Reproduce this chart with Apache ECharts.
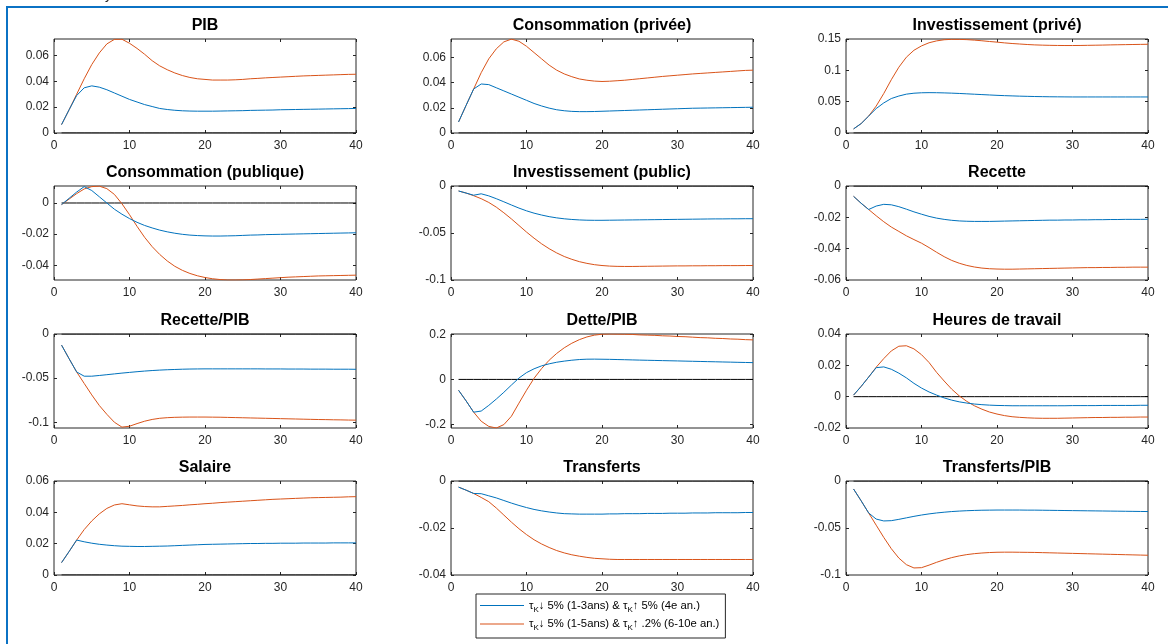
<!DOCTYPE html>
<html><head><meta charset="utf-8">
<script src="https://cdn.jsdelivr.net/npm/echarts@6/dist/echarts.min.js"></script>
<style>html,body{margin:0;padding:0;background:#fff}#c{width:1168px;height:644px}</style>
</head><body><div id="c"></div>
<script>
// ---------- DATA ----------
const periods = Array.from({length:40},(_,i)=>i+1);
const xTicks = [0,10,20,30,40];
const titles = ['PIB','Consommation (privée)','Investissement (privé)','Consommation (publique)','Investissement (public)','Recette','Recette/PIB','Dette/PIB','Heures de travail','Salaire','Transferts','Transferts/PIB'];
const seriesNames = ['τK↓ 5% (1-3ans) & τK↑ 5% (4e an.)','τK↓ 5% (1-5ans) & τK↑ .2% (6-10e an.)'];

const pibBlue = [0.0065,0.018,0.029,0.035,0.0365,0.0355,0.0335,0.031,0.0285,0.026,
0.024,0.022,0.0205,0.019,0.0182,0.0176,0.0172,0.017,0.0169,0.0169,
0.0169,0.017,0.0171,0.0172,0.0173,0.0175,0.0176,0.0177,0.0178,0.018,
0.0181,0.0182,0.0183,0.0184,0.0185,0.0186,0.0187,0.0188,0.0189,0.019];
const pibOrange = [0.0065,0.018,0.030,0.042,0.053,0.062,0.069,0.0725,0.0726,0.0695,
0.0655,0.061,0.056,0.052,0.049,0.0465,0.0445,0.043,0.042,0.0415,
0.041,0.041,0.041,0.0412,0.0415,0.042,0.0423,0.0427,0.043,0.0433,
0.0436,0.0439,0.0442,0.0444,0.0446,0.0448,0.045,0.0452,0.0454,0.0455];

const consBlue = [0.0088,0.022,0.035,0.039,0.0385,0.036,0.0335,0.031,0.0285,0.026,
0.0235,0.0215,0.0198,0.0185,0.0177,0.0172,0.017,0.017,0.0171,0.0173,
0.0175,0.0177,0.0179,0.0181,0.0183,0.0185,0.0187,0.0189,0.0191,0.0193,
0.0195,0.0197,0.0198,0.0199,0.0200,0.0201,0.0202,0.0203,0.0204,0.0205];
const consOrange = [0.0088,0.022,0.035,0.048,0.059,0.067,0.0725,0.0747,0.073,0.069,
0.064,0.059,0.054,0.050,0.047,0.0448,0.043,0.042,0.0413,0.041,
0.0412,0.0416,0.042,0.0426,0.0432,0.0438,0.0444,0.045,0.0455,0.046,
0.0465,0.047,0.0474,0.0478,0.0482,0.0486,0.049,0.0494,0.0498,0.050];

const invPrivBlue = [0.0065,0.015,0.027,0.039,0.048,0.055,0.059,0.062,0.0635,0.0642,
0.0644,0.0643,0.064,0.0636,0.0631,0.0625,0.0619,0.0613,0.0607,0.0601,
0.0596,0.0592,0.0588,0.0585,0.0582,0.058,0.0578,0.0577,0.0576,0.0575,
0.0575,0.0575,0.0575,0.0575,0.0575,0.0575,0.0575,0.0575,0.0575,0.0575];
const invPrivOrange = [0.0065,0.015,0.027,0.043,0.063,0.085,0.105,0.121,0.132,0.139,
0.144,0.147,0.1488,0.1495,0.1494,0.149,0.1482,0.1472,0.146,0.145,
0.1438,0.1428,0.142,0.1412,0.1406,0.1402,0.1399,0.1397,0.1396,0.1396,
0.1397,0.1399,0.1401,0.1403,0.1406,0.1408,0.141,0.1412,0.1414,0.1416];

const consPubBlue = [-0.001,0.003,0.007,0.0105,0.008,0.004,0.0,-0.004,-0.0072,-0.0100,
-0.0124,-0.0144,-0.016,-0.0174,-0.0185,-0.0194,-0.0201,-0.0206,-0.0209,-0.0211,
-0.0212,-0.0212,-0.0211,-0.021,-0.0208,-0.0206,-0.0205,-0.0203,-0.0202,-0.0201,
-0.02,-0.0199,-0.0198,-0.0197,-0.0196,-0.0195,-0.0194,-0.0193,-0.0192,-0.0191];
const consPubOrange = [-0.001,0.0025,0.006,0.009,0.0105,0.0108,0.0092,0.0055,-0.0005,-0.0075,
-0.015,-0.022,-0.028,-0.033,-0.0372,-0.0406,-0.0432,-0.0452,-0.0467,-0.0478,
-0.0486,-0.0491,-0.0494,-0.0494,-0.0493,-0.0491,-0.0488,-0.0485,-0.0482,-0.0479,
-0.0476,-0.0474,-0.0472,-0.047,-0.0468,-0.0467,-0.0466,-0.0465,-0.0464,-0.0463];

const invPubBlue = [-0.0053,-0.0075,-0.0098,-0.0083,-0.0105,-0.0135,-0.0168,-0.0202,-0.0235,-0.0264,
-0.0289,-0.0309,-0.0326,-0.0339,-0.0349,-0.0356,-0.0361,-0.0364,-0.0365,-0.0365,
-0.0364,-0.0363,-0.0362,-0.0361,-0.036,-0.0359,-0.0358,-0.0357,-0.0356,-0.0355,
-0.0354,-0.0353,-0.0352,-0.0351,-0.035,-0.035,-0.0349,-0.0349,-0.0348,-0.0348];
const invPubOrange = [-0.0053,-0.0075,-0.0103,-0.0135,-0.0175,-0.0225,-0.0285,-0.035,-0.042,-0.049,
-0.0555,-0.0615,-0.0667,-0.0712,-0.075,-0.078,-0.0805,-0.0823,-0.0837,-0.0846,
-0.0852,-0.0855,-0.0856,-0.0856,-0.0855,-0.0854,-0.0853,-0.0852,-0.0851,-0.085,
-0.085,-0.0849,-0.0849,-0.0848,-0.0848,-0.0847,-0.0847,-0.0847,-0.0846,-0.0846];

const recBlue = [-0.0066,-0.011,-0.015,-0.0128,-0.0117,-0.012,-0.0132,-0.0148,-0.0165,-0.018,
-0.0194,-0.0205,-0.0213,-0.0219,-0.0223,-0.0225,-0.0226,-0.0226,-0.0226,-0.0225,
-0.0224,-0.0223,-0.0222,-0.0221,-0.022,-0.0219,-0.0218,-0.0218,-0.0217,-0.0217,
-0.0216,-0.0216,-0.0215,-0.0215,-0.0214,-0.0214,-0.0213,-0.0213,-0.0213,-0.0212];
const recOrange = [-0.0066,-0.011,-0.015,-0.019,-0.0228,-0.0262,-0.029,-0.0318,-0.0342,-0.0365,
-0.0393,-0.0423,-0.0451,-0.0475,-0.0493,-0.0507,-0.0517,-0.0524,-0.0528,-0.053,
-0.0531,-0.0531,-0.053,-0.0529,-0.0528,-0.0527,-0.0526,-0.0525,-0.0524,-0.0523,
-0.0522,-0.0521,-0.0521,-0.052,-0.052,-0.0519,-0.0519,-0.0518,-0.0518,-0.0518];

const recPibBlue = [-0.0126,-0.028,-0.043,-0.0478,-0.0478,-0.047,-0.0461,-0.0452,-0.0443,-0.0435,
-0.0427,-0.042,-0.0414,-0.0409,-0.0405,-0.0402,-0.0399,-0.0397,-0.0396,-0.0395,
-0.0395,-0.0395,-0.0395,-0.0395,-0.0395,-0.0395,-0.0395,-0.0396,-0.0396,-0.0396,
-0.0397,-0.0397,-0.0397,-0.0398,-0.0398,-0.0398,-0.0399,-0.0399,-0.0399,-0.04];
const recPibOrange = [-0.0126,-0.028,-0.043,-0.056,-0.069,-0.081,-0.091,-0.1,-0.1055,-0.1045,
-0.1015,-0.0988,-0.0968,-0.0955,-0.0948,-0.0944,-0.0942,-0.0941,-0.0941,-0.0941,
-0.0942,-0.0943,-0.0945,-0.0947,-0.0949,-0.0951,-0.0953,-0.0955,-0.0957,-0.0959,
-0.0961,-0.0963,-0.0965,-0.0967,-0.0969,-0.097,-0.0972,-0.0973,-0.0975,-0.0976];

const detteBlue = [-0.048,-0.095,-0.145,-0.14,-0.115,-0.087,-0.057,-0.025,0.006,0.03,
0.047,0.06,0.069,0.076,0.081,0.085,0.088,0.0895,0.0898,0.0893,
0.0888,0.088,0.0872,0.0863,0.0855,0.0847,0.084,0.0832,0.0825,0.0818,
0.081,0.0802,0.0795,0.0787,0.078,0.0772,0.0765,0.0757,0.075,0.0743];
const detteOrange = [-0.048,-0.095,-0.145,-0.185,-0.208,-0.215,-0.2,-0.163,-0.105,-0.048,
0.005,0.048,0.085,0.115,0.14,0.16,0.176,0.188,0.196,0.2,
0.201,0.2005,0.2,0.199,0.197,0.196,0.195,0.193,0.192,0.19,
0.189,0.187,0.185,0.184,0.182,0.181,0.179,0.178,0.176,0.175];

const heuresBlue = [0.001,0.0065,0.0125,0.0185,0.019,0.0175,0.015,0.012,0.0085,0.0055,
0.003,0.001,-0.0008,-0.0022,-0.0033,-0.0041,-0.0047,-0.0051,-0.0054,-0.0056,
-0.0057,-0.0058,-0.0058,-0.0058,-0.0058,-0.0058,-0.0058,-0.0058,-0.0058,-0.0057,
-0.0057,-0.0057,-0.0057,-0.0056,-0.0056,-0.0056,-0.0056,-0.0056,-0.0055,-0.0055];
const heuresOrange = [0.001,0.0065,0.0125,0.0188,0.0243,0.0292,0.0322,0.0325,0.0305,0.0268,
0.0218,0.0155,0.01,0.0048,0.0005,-0.003,-0.0058,-0.008,-0.0098,-0.0111,
-0.0121,-0.0128,-0.0132,-0.0135,-0.0137,-0.0138,-0.0138,-0.0138,-0.0137,-0.0136,
-0.0135,-0.0134,-0.0133,-0.0133,-0.0132,-0.0132,-0.0131,-0.0131,-0.013,-0.013];

const salaireBlue = [0.0079,0.015,0.0223,0.0212,0.0203,0.0196,0.0191,0.0187,0.0184,0.0183,
0.0182,0.0182,0.0183,0.0184,0.0185,0.0187,0.0189,0.0191,0.0193,0.0195,
0.0196,0.0197,0.0198,0.0199,0.02,0.0201,0.0201,0.0202,0.0202,0.0203,
0.0203,0.0203,0.0204,0.0204,0.0204,0.0204,0.0205,0.0205,0.0205,0.0205];
const salaireOrange = [0.0079,0.015,0.0223,0.029,0.0345,0.039,0.0425,0.0447,0.0455,0.0448,
0.0441,0.0437,0.0435,0.0435,0.0438,0.0441,0.0444,0.0448,0.0451,0.0455,
0.0458,0.0462,0.0465,0.0468,0.0471,0.0474,0.0477,0.048,0.0483,0.0485,
0.0487,0.0489,0.0491,0.0493,0.0494,0.0495,0.0496,0.0497,0.0499,0.05];

const transBlue = [-0.0026,-0.0039,-0.0053,-0.0054,-0.0063,-0.0072,-0.0083,-0.0094,-0.0104,-0.0113,
-0.0121,-0.0127,-0.0132,-0.0136,-0.0139,-0.014,-0.0141,-0.0141,-0.0141,-0.0141,
-0.014,-0.014,-0.0139,-0.0139,-0.0139,-0.0138,-0.0138,-0.0138,-0.0137,-0.0137,
-0.0137,-0.0136,-0.0136,-0.0136,-0.0135,-0.0135,-0.0135,-0.0135,-0.0134,-0.0134];
const transOrange = [-0.0026,-0.0039,-0.0053,-0.007,-0.0088,-0.0115,-0.0145,-0.0175,-0.0203,-0.0228,
-0.025,-0.0268,-0.0283,-0.0296,-0.0306,-0.0314,-0.032,-0.0325,-0.0329,-0.0331,
-0.0333,-0.0334,-0.0334,-0.0334,-0.0334,-0.0334,-0.0334,-0.0334,-0.0334,-0.0334,
-0.0334,-0.0334,-0.0334,-0.0334,-0.0334,-0.0334,-0.0334,-0.0334,-0.0334,-0.0334];

const trPibBlue = [-0.0085,-0.021,-0.034,-0.0405,-0.0425,-0.0422,-0.0408,-0.0392,-0.0376,-0.0362,
-0.035,-0.034,-0.0332,-0.0325,-0.032,-0.0316,-0.0313,-0.0311,-0.031,-0.0309,
-0.0309,-0.0309,-0.0309,-0.031,-0.031,-0.0311,-0.0312,-0.0313,-0.0314,-0.0315,
-0.0316,-0.0317,-0.0318,-0.0319,-0.032,-0.0321,-0.0322,-0.0323,-0.0324,-0.0325];
const trPibOrange = [-0.0085,-0.021,-0.034,-0.047,-0.06,-0.072,-0.082,-0.089,-0.0925,-0.0922,
-0.0895,-0.0865,-0.0838,-0.0815,-0.0797,-0.0783,-0.0773,-0.0766,-0.0761,-0.0758,
-0.0757,-0.0757,-0.0758,-0.0759,-0.076,-0.0762,-0.0764,-0.0766,-0.0768,-0.077,
-0.0772,-0.0774,-0.0776,-0.0778,-0.078,-0.0782,-0.0784,-0.0786,-0.0788,-0.079];

const blueSeries = [pibBlue,consBlue,invPrivBlue,consPubBlue,invPubBlue,recBlue,recPibBlue,detteBlue,heuresBlue,salaireBlue,transBlue,trPibBlue];
const orangeSeries = [pibOrange,consOrange,invPrivOrange,consPubOrange,invPubOrange,recOrange,recPibOrange,detteOrange,heuresOrange,salaireOrange,transOrange,trPibOrange];
const yTicks = [[0,0.02,0.04,0.06],[0,0.02,0.04,0.06],[0,0.05,0.1,0.15],[-0.04,-0.02,0],[-0.1,-0.05,0],[-0.06,-0.04,-0.02,0],
[-0.1,-0.05,0],[-0.2,0,0.2],[-0.02,0,0.02,0.04],[0,0.02,0.04,0.06],[-0.04,-0.02,0],[-0.1,-0.05,0]];
const yMin = [0,0,0,-0.0494,-0.1,-0.06,-0.1065,-0.215,-0.02,0,-0.04,-0.1];
const yMax = [0.0728,0.0748,0.15,0.0109,0,0,0,0.201,0.04,0.06,0,0];

// ---------- LAYOUT ----------
const FONT = '"Liberation Sans", Arial, Helvetica, sans-serif';
const AX = '#262626';
const colLeft = [54,451,846], rowTop = [39,186,334,481], W = 302, H = 94;
const BLUE = '#0072BD', ORANGE = '#D95319';
const fmt = v => String(parseFloat(Number(v).toFixed(4)));

const grids=[], xAxes=[], yAxes=[], series=[], titleArr=[];
const noLine = {show:false, onZero:false};
titles.forEach((t,i)=>{
  const c=i%3, r=Math.floor(i/3);
  grids.push({left:colLeft[c], top:rowTop[r], width:W, height:H, show:true, borderColor:AX, borderWidth:1, backgroundColor:'#fff'});
  titleArr.push({text:t, left:colLeft[c]+W/2, top:rowTop[r]-21, textAlign:'center', padding:0,
    textStyle:{fontFamily:FONT, fontSize:16, fontWeight:'bold', color:'#000'}});
  const tickBase = {inside:true, length:3, lineStyle:{color:AX, width:1}};
  xAxes.push({gridIndex:i, type:'value', min:0, max:40, interval:10, axisLine:noLine, splitLine:{show:false},
    axisTick:tickBase, axisLabel:{margin:7, fontFamily:FONT, fontSize:12, color:AX, customValues:xTicks}});
  xAxes.push({gridIndex:i, type:'value', position:'top', min:0, max:40, interval:10, axisLine:noLine, splitLine:{show:false},
    axisTick:tickBase, axisLabel:{show:false}});
  yAxes.push({gridIndex:i, type:'value', min:yMin[i], max:yMax[i], axisLine:noLine, splitLine:{show:false},
    axisTick:Object.assign({customValues:yTicks[i]}, tickBase),
    axisLabel:{margin:5, fontFamily:FONT, fontSize:12, color:AX, customValues:yTicks[i], formatter:fmt, showMinLabel:true, showMaxLabel:true}});
  yAxes.push({gridIndex:i, type:'value', position:'right', min:yMin[i], max:yMax[i], axisLine:noLine, splitLine:{show:false},
    axisTick:Object.assign({customValues:yTicks[i]}, tickBase), axisLabel:{show:false}});
  series.push({type:'line', xAxisIndex:2*i, yAxisIndex:2*i, data:periods.map(p=>[p,0]), symbol:'none', silent:true,
    lineStyle:{color:'#000', width:1}, z:1});
  series.push({name:seriesNames[0], type:'line', xAxisIndex:2*i, yAxisIndex:2*i, data:periods.map((p,k)=>[p,blueSeries[i][k]]),
    symbol:'none', color:BLUE, lineStyle:{color:BLUE, width:1}, z:3});
  series.push({name:seriesNames[1], type:'line', xAxisIndex:2*i, yAxisIndex:2*i, data:periods.map((p,k)=>[p,orangeSeries[i][k]]),
    symbol:'none', color:ORANGE, lineStyle:{color:ORANGE, width:1}, z:2});
});

const chart = echarts.init(document.getElementById('c'), null, {renderer:'canvas'});
chart.setOption({
  animation:false,
  backgroundColor:'#fff',
  title:titleArr,
  grid:grids, xAxis:xAxes, yAxis:yAxes, series:series,
  legend:{
    data:seriesNames.map(n=>({name:n, icon:'rect'})), orient:'vertical', left:476, top:594, selectedMode:false,
    backgroundColor:'#fff', borderColor:AX, borderWidth:1, padding:[6,6,6,4], itemGap:5,
    itemWidth:44, itemHeight:1.2,
    formatter: n => {
      const parts = n.split('τK');
      return parts.map((p,j)=> j===0 ? (p?'{a|'+p+'}':'') : '{a|τ}{k|K}{a|'+p+'}').join('');
    },
    textStyle:{fontFamily:FONT, fontSize:11.3, color:'#000',
      rich:{a:{fontFamily:FONT, fontSize:11.3, color:'#000', lineHeight:16, verticalAlign:'middle'},
            k:{fontFamily:FONT, fontSize:8, color:'#000', lineHeight:8, verticalAlign:'bottom'}}}
  },
  graphic:[
    {type:'line', shape:{x1:7, y1:7, x2:1168, y2:7}, style:{stroke:'#0b72c4', lineWidth:2}, silent:true},
    {type:'line', shape:{x1:7, y1:6, x2:7, y2:644}, style:{stroke:'#0b72c4', lineWidth:2}, silent:true},
    {type:'text', left:105, top:-12, style:{text:'y', font:'14px '+FONT, fill:'#222'}, silent:true}
  ]
});
</script></body></html>
